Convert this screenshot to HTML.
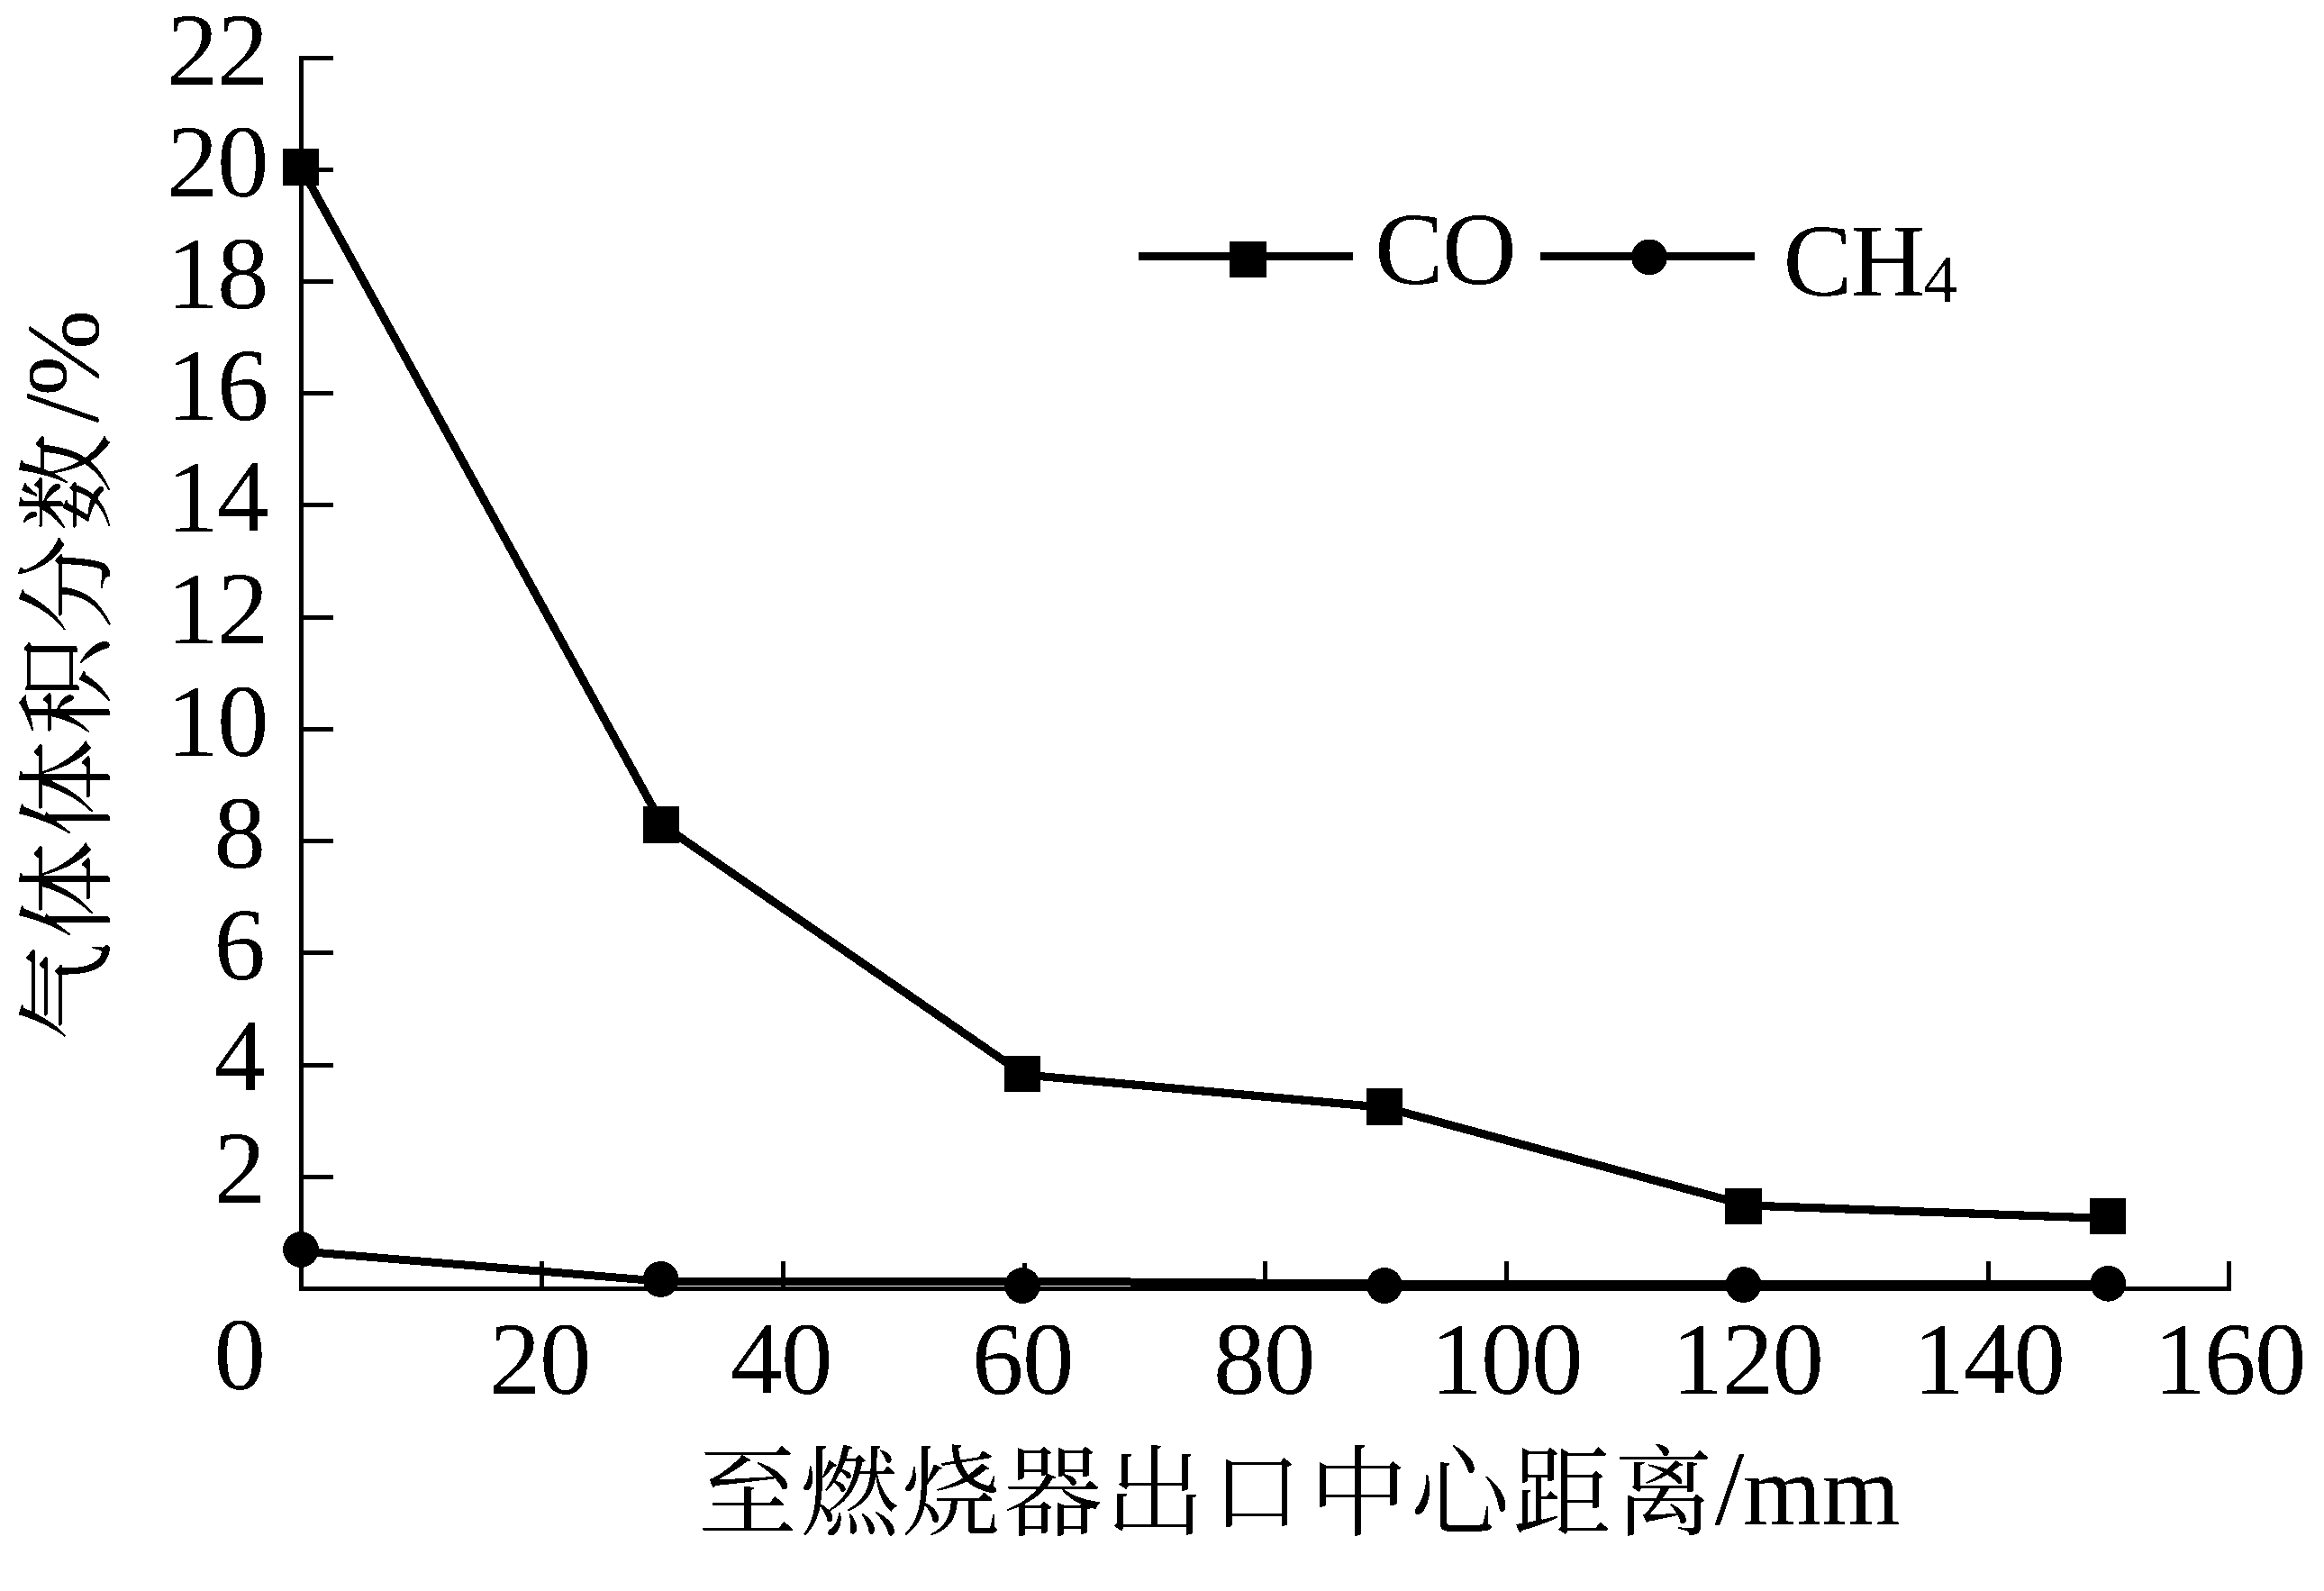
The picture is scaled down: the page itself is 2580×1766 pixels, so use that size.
<!DOCTYPE html>
<html lang="zh-CN">
<head>
<meta charset="utf-8">
<title>气体体积分数 — 至燃烧器出口中心距离</title>
<style>
  html, body { margin: 0; padding: 0; background: #fff; }
  body { width: 2580px; height: 1766px; overflow: hidden; }
  svg { display: block; }
  .lat { font-family: "Liberation Serif", "Noto Serif CJK SC", serif; font-size: 112px; fill: #000; }
  .num { font-family: "Liberation Serif", "Noto Serif CJK SC", serif; font-size: 115px; letter-spacing: -1.5px; fill: #000; }
  .cap { font-family: "Liberation Serif", "Noto Serif CJK SC", serif; font-size: 115px; letter-spacing: -2px; fill: #000; }
  .cjk { font-family: "Liberation Serif", "Noto Serif CJK SC", serif; font-size: 110px; letter-spacing: 3px; fill: #000; font-weight: 400; }
  .sub { font-family: "Liberation Serif", "Noto Serif CJK SC", serif; font-size: 75px; letter-spacing: 0; fill: #000; }
  .ax  { fill: #000; shape-rendering: crispEdges; }
  .ln  { fill: none; stroke: #000; stroke-width: 9.2; stroke-linejoin: miter; stroke-linecap: butt; shape-rendering: crispEdges; }
  .mk  { fill: #000; shape-rendering: crispEdges; }
</style>
</head>
<body>
<svg width="2580" height="1766" viewBox="0 0 2580 1766">
  <rect x="0" y="0" width="2580" height="1766" fill="#ffffff"/>
  <defs>
    <filter id="bin" x="0" y="0" width="2580" height="1766" filterUnits="userSpaceOnUse" color-interpolation-filters="sRGB">
      <feComponentTransfer>
        <feFuncA type="discrete" tableValues="0 1"/>
      </feComponentTransfer>
    </filter>
  </defs>

  <!-- axes -->
  <g class="ax" id="axes">
    <rect x="332" y="62" width="5" height="1371"/>
    <rect x="332" y="1428" width="2145" height="5"/>
    <!-- y ticks -->
    <rect x="332" y="62" width="38" height="5"/>
    <rect x="332" y="186" width="38" height="5"/>
    <rect x="332" y="310" width="38" height="5"/>
    <rect x="332" y="434" width="38" height="5"/>
    <rect x="332" y="558" width="38" height="5"/>
    <rect x="332" y="683" width="38" height="5"/>
    <rect x="332" y="807" width="38" height="5"/>
    <rect x="332" y="931" width="38" height="5"/>
    <rect x="332" y="1055" width="38" height="5"/>
    <rect x="332" y="1180" width="38" height="5"/>
    <rect x="332" y="1304" width="38" height="5"/>
    <!-- x ticks -->
    <rect x="599" y="1400" width="5" height="33"/>
    <rect x="867" y="1400" width="5" height="33"/>
    <rect x="1135" y="1402" width="5" height="31"/>
    <rect x="1402" y="1400" width="5" height="33"/>
    <rect x="1670" y="1400" width="5" height="33"/>
    <rect x="1937" y="1408" width="5" height="25"/>
    <rect x="2205" y="1400" width="5" height="33"/>
    <rect x="2472" y="1400" width="5" height="33"/>
  </g>

  <g filter="url(#bin)" id="ticktext">
  <!-- y tick labels -->
  <g class="num" text-anchor="end" id="ylabels">
    <text x="297" y="94">22</text>
    <text x="297" y="218">20</text>
    <text x="297" y="342">18</text>
    <text x="297" y="466">16</text>
    <text x="297" y="590">14</text>
    <text x="297" y="714">12</text>
    <text x="297" y="839">10</text>
    <text x="293.5" y="963">8</text>
    <text x="293.5" y="1087">6</text>
    <text x="293.5" y="1211">4</text>
    <text x="293.5" y="1335">2</text>
  </g>

  <!-- x tick labels -->
  <g class="num" text-anchor="middle" id="xlabels">
    <text x="293.4" y="1542" text-anchor="end">0</text>
    <text x="599" y="1547">20</text>
    <text x="867" y="1547">40</text>
    <text x="1135" y="1547">60</text>
    <text x="1403" y="1547">80</text>
    <text x="1672" y="1547">100</text>
    <text x="1939.5" y="1547">120</text>
    <text x="2207.5" y="1547">140</text>
    <text x="2475" y="1547">160</text>
  </g>

  </g>

  <!-- CH4 series -->
  <polyline class="ln" id="ch4line" points="334.5,1389 735.75,1422.3 1137,1422.15 1538.25,1425.05 1939.5,1425.5 2340.75,1425.5" style="stroke-width:9"/>
  <g class="mk" id="ch4pts">
    <circle cx="334" cy="1387" r="19.9"/>
    <circle cx="733.6" cy="1420" r="19.9"/>
    <circle cx="1135" cy="1427" r="19.9"/>
    <circle cx="1537" cy="1427" r="19.9"/>
    <circle cx="1935.5" cy="1426" r="19.9"/>
    <circle cx="2340.4" cy="1424.8" r="19.9"/>
  </g>

  <!-- CO series -->
  <polyline class="ln" id="coline" points="334,185.5 735.75,916 1137,1193 1538.25,1229.4 1939.5,1338 2340.75,1352.5"/>
  <g class="mk" id="copts" shape-rendering="crispEdges">
    <rect x="314" y="165" width="40" height="41"/>
    <rect x="714" y="895" width="40" height="41"/>
    <rect x="1115" y="1172" width="40" height="40"/>
    <rect x="1517" y="1208" width="40" height="41"/>
    <rect x="1915" y="1319" width="41" height="40"/>
    <rect x="2320" y="1330" width="40" height="40"/>
  </g>

  <!-- legend -->
  <g id="legend">
    <rect class="ax" x="1264" y="280" width="238" height="9"/>
    <rect class="ax" x="1365" y="268" width="41" height="40"/>
    <text class="cap" x="1526" y="315" filter="url(#bin)">CO</text>
    <rect class="ax" x="1710" y="280" width="238" height="9"/>
    <circle class="mk" cx="1831" cy="285.4" r="19.9"/>
    <text class="cap" x="1979.5" y="327.5" filter="url(#bin)">CH<tspan class="sub" dy="7.5">4</tspan></text>
  </g>

  <g filter="url(#bin)" id="titletext">
  <!-- x axis title -->
  <text class="cjk" x="775" y="1696" id="xtitle">至燃烧器出<tspan font-size="99" dx="5.5" dy="-5">口</tspan><tspan dx="5.5" dy="5">中心距离</tspan></text>
  <text class="lat" x="1903.5" y="1692" id="xunit"><tspan font-size="119">/</tspan><tspan dx="-1.5">mm</tspan></text>

  <!-- y axis title (rotated) -->
  <g transform="translate(109.5,1155.5) rotate(-90)">
    <text class="cjk" x="0" y="4" id="ytitle">气体体积分数</text>
    <text class="lat" x="686" y="-1.5" id="yunit"><tspan font-size="119">/</tspan><tspan font-size="115" dx="-3">%</tspan></text>
  </g>
  </g>
</svg>
</body>
</html>
